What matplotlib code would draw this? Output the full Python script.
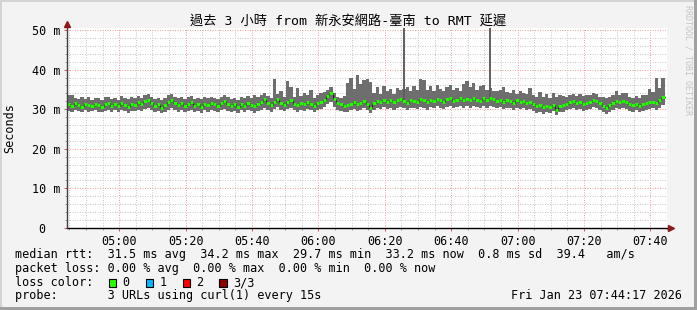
import numpy as np
import matplotlib
matplotlib.use("Agg")
import matplotlib.pyplot as plt
from matplotlib.patches import Rectangle

# one value per minute, starting 04:44:17 (ms)
median = [
    31.2, 30.8, 31.5, 31.0, 30.6, 31.4, 31.1, 30.7, 31.3, 31.0,
    30.5, 31.2, 31.6, 30.9, 31.3, 30.8, 31.5, 31.1, 30.6, 31.4,
    31.0, 31.7, 31.3, 32.0, 32.4, 31.5, 30.8, 31.2, 30.4, 31.0,
    31.8, 32.4, 31.6, 31.0, 31.5, 30.9, 31.3, 31.7, 30.8, 31.2,
    30.6, 31.4, 31.0, 31.6, 31.2, 30.8, 31.5, 32.0, 31.3, 30.9,
    31.2, 30.6, 31.4, 30.9, 31.5, 31.1, 30.7, 31.3, 31.8, 32.5,
    31.6, 31.0, 31.8, 32.6, 31.5, 31.1, 31.9, 32.3, 31.4, 31.0,
    31.6, 31.2, 31.8, 31.3, 30.9, 31.5, 31.9, 32.4, 33.3, 34.2,
    32.5, 31.6, 31.2, 30.8, 31.0, 31.4, 31.8, 31.2, 31.6, 32.0,
    31.4, 30.4, 31.6, 32.1, 31.8, 32.4, 31.9, 32.3, 31.7, 32.2,
    32.6, 32.0, 31.5, 32.3, 32.1, 31.8, 32.5, 32.2, 31.7, 32.4,
    32.0, 32.6, 32.2, 31.9, 32.5, 32.8, 32.1, 32.4, 32.7, 32.3,
    32.6, 32.2, 32.9, 32.4, 32.0, 32.7, 32.3, 32.8, 32.5, 32.1,
    32.4, 31.9, 32.3, 32.0, 31.6, 32.2, 31.8, 32.1, 31.5, 31.8,
    31.2, 30.7, 31.0, 30.5, 30.9, 30.6, 31.1, 29.9, 30.8, 31.0,
    31.4, 31.8, 32.0, 31.5, 31.9, 31.2, 31.6, 31.9, 32.4, 32.1,
    31.5, 30.9, 30.2, 31.0, 31.6, 32.0, 31.8, 32.1, 31.7, 31.3,
    31.0, 31.4, 30.8, 31.2, 31.5, 31.7, 31.9, 31.6, 32.2, 33.2,
]
upper = [
    33.7, 33.6, 32.8, 32.5, 33.1, 32.6, 33.0, 32.4, 32.9, 32.7,
    32.3, 33.2, 33.0, 32.6, 32.9, 32.4, 33.3, 32.8, 32.5, 33.1,
    32.7, 33.4, 32.9, 33.6, 33.9, 33.1, 32.6, 32.9, 32.4, 32.8,
    33.5, 33.8, 33.2, 32.7, 33.1, 32.6, 33.0, 33.4, 32.5, 32.9,
    32.6, 33.1, 32.7, 33.2, 32.9, 32.5, 33.2, 33.7, 33.0, 32.6,
    32.9, 32.4, 33.1, 32.7, 33.3, 32.9, 33.5, 33.2, 33.6, 34.0,
    33.4, 32.9, 37.5, 33.8, 34.5, 33.0, 37.2, 35.6, 33.2, 35.4,
    33.4, 34.2, 33.5, 34.8, 32.9, 33.6, 34.0, 34.3, 34.9, 35.5,
    34.0, 33.2, 32.9, 33.4, 36.6, 37.8, 35.2, 38.7, 36.3, 37.4,
    37.5, 36.8, 34.2, 35.6, 33.8, 35.9, 34.5, 35.2, 33.9, 35.4,
    34.8, 35.1, 35.5, 34.6, 35.8, 34.9, 37.5, 37.3, 34.8, 35.9,
    34.6, 36.1, 35.2, 34.7, 35.6, 36.0, 34.9, 35.3, 34.5, 36.3,
    37.0, 35.6, 36.5, 34.8, 35.9, 36.2, 34.9, 35.4, 34.6, 34.5,
    34.9, 35.7, 34.4, 34.1, 34.8, 33.9, 34.5, 34.2, 33.8, 35.4,
    33.6, 33.2, 34.3, 33.0, 33.8, 32.9, 34.0, 33.1, 33.5, 33.4,
    33.2, 33.6, 33.8, 33.4, 33.9, 33.3, 33.5, 33.7, 34.0, 33.8,
    33.2, 33.0, 32.8, 33.1, 33.5, 34.5, 33.7, 34.2, 34.2, 33.1,
    32.9, 33.4, 32.8, 33.5, 33.6, 35.0, 34.3, 37.9, 35.4, 38.0,
]
lower = [
    29.5, 29.3, 29.8, 29.6, 29.2, 29.7, 29.4, 29.5, 29.8, 29.3,
    29.4, 29.6, 29.9, 29.3, 29.7, 29.2, 29.8, 29.5, 29.1, 29.6,
    29.5, 29.8, 29.6, 30.1, 30.3, 29.7, 29.2, 29.5, 29.0, 29.4,
    29.9, 30.2, 29.8, 29.4, 29.7, 29.3, 29.6, 29.9, 29.2, 29.5,
    29.1, 29.7, 29.4, 29.8, 29.6, 29.3, 29.7, 30.1, 29.6, 29.2,
    29.6, 29.0, 29.7, 29.3, 29.8, 29.5, 29.1, 29.6, 29.9, 30.4,
    29.9, 29.4, 30.0, 30.5, 29.8, 29.5, 30.1, 30.4, 29.7, 29.4,
    29.9, 29.6, 30.1, 29.7, 29.3, 29.8, 30.1, 30.5, 31.2, 31.8,
    30.6, 29.9, 29.5, 29.2, 29.4, 29.7, 30.0, 29.6, 29.9, 30.2,
    29.8, 29.0, 29.9, 30.3, 30.0, 30.5, 30.1, 30.4, 29.9, 30.3,
    30.6, 30.2, 29.8, 30.4, 30.2, 30.0, 30.6, 30.3, 29.9, 30.5,
    30.2, 30.7, 30.4, 30.1, 30.6, 30.8, 30.3, 30.5, 30.8, 30.4,
    30.7, 30.4, 30.9, 30.5, 30.2, 30.8, 30.4, 30.9, 30.6, 30.3,
    30.5, 30.1, 30.4, 30.2, 29.8, 30.3, 30.0, 30.2, 29.7, 30.0,
    29.5, 29.1, 29.4, 28.9, 29.3, 29.0, 29.5, 28.6, 29.2, 29.4,
    29.7, 30.0, 30.2, 29.8, 30.1, 29.5, 29.9, 30.1, 30.5, 30.3,
    29.8, 29.3, 28.9, 29.4, 29.9, 30.2, 30.0, 30.3, 30.0, 29.6,
    29.4, 29.7, 29.2, 29.6, 29.8, 30.0, 30.2, 29.9, 30.4, 31.0,
]
# two single-sample outliers (minutes after start, ms) - beyond top of graph
spike_minutes = [101.5, 127.5]
spike_values = [60.0, 60.0]

time_labels = ["05:00", "05:20", "05:40", "06:00", "06:20", "06:40", "07:00", "07:20", "07:40"]
first_tick = 15 + 43 / 60.0   # 05:00:00 minus 04:44:17, in minutes
y_labels = ["0  ", "10 m", "20 m", "30 m", "40 m", "50 m"]

title = "過去 3 小時 from 新永安網路-臺南 to RMT 延遲"
legend_lines = [
    "median rtt:  31.5 ms avg  34.2 ms max  29.7 ms min  33.2 ms now  0.8 ms sd  39.4   am/s",
    "packet loss: 0.00 % avg  0.00 % max  0.00 % min  0.00 % now",
    "loss color:",
    "probe:       3 URLs using curl(1) every 15s",
]
loss_names = ["0", "1", "2", "3/3"]
loss_colors = ["#26ff00", "#00b8ff", "#ff0000", "#8b0000"]
stamp = "Fri Jan 23 07:44:17 2026"

W, H = 697, 310
mono = ["DejaVu Sans Mono", "Noto Sans CJK TC"]
plt.rcParams["font.family"] = mono
FS = 8.5


def fx(px):
    return px / W


def fy(py):
    return 1 - py / H


fig = plt.figure(figsize=(W / 100, H / 100), dpi=100, facecolor="#f3f3f3")

# 3d frame like rrdtool
fig.add_artist(Rectangle((0, fy(2)), 1, 2 / H, transform=fig.transFigure, color="#d4d4d4", lw=0))
fig.add_artist(Rectangle((0, 0), 2 / W, 1, transform=fig.transFigure, color="#d4d4d4", lw=0))
fig.add_artist(Rectangle((fx(694), 0), 3 / W, 1, transform=fig.transFigure, color="#a0a0a0", lw=0))
fig.add_artist(Rectangle((0, 0), 1, 3 / H, transform=fig.transFigure, color="#a0a0a0", lw=0))

ax = fig.add_axes([fx(67), fy(228), 600 / W, 200 / H])
ax.set_facecolor("white")

x = np.arange(len(median) + 1)
m = np.array(median)
up = np.append(upper, upper[-1])
lo = np.append(lower, lower[-1])

smoke = "#6e6e6e"
ax.fill_between(x, lo, up, step="post", color=smoke, lw=0, zorder=2)
spike_base = [median[int(t)] for t in spike_minutes]
ax.vlines(spike_minutes, spike_base, spike_values, colors="#5e5e5e", lw=1.4, zorder=2)
ax.step(x, np.append(m, m[-1]), where="post", color="#1e1e1e", lw=0.8, zorder=3)
ax.hlines(m, x[:-1], x[1:], colors=loss_colors[0], lw=2.0, zorder=4)

ax.set_xlim(0, 180)
ax.set_ylim(0, 50.5)

ax.set_xticks(first_tick + 20 * np.arange(len(time_labels)))
ax.set_xticklabels(time_labels)
ax.set_xticks(first_tick - 15 + 5 * np.arange(37), minor=True)
ax.set_yticks(np.arange(0, 51, 10))
ax.set_yticklabels(y_labels)
ax.set_yticks(np.arange(0, 51, 2), minor=True)

ax.set_axisbelow(True)
ax.grid(which="major", color="#f0a0a0", ls=(0, (1, 1.5)), lw=0.72)
ax.grid(which="minor", color="#c8c8c8", ls=(0, (1, 1.5)), lw=0.72)
ax.tick_params(which="major", length=2.2, width=0.72, color="#d06060", labelsize=FS, pad=2.6)
ax.tick_params(which="minor", length=1.4, width=0.72, color="#a0a0a0")
for s in ax.spines.values():
    s.set_visible(False)

# axes with arrows
ax.plot([0, 1.007], [0, 0], transform=ax.transAxes, color="black", lw=1, clip_on=False, zorder=5)
ax.plot([0, 0], [0, 1.02], transform=ax.transAxes, color="#404040", lw=1, clip_on=False, zorder=5)
ax.plot(1.007, 0, marker=">", ms=4, color="#8b1a1a", transform=ax.transAxes, clip_on=False, zorder=6)
ax.plot(0, 1.02, marker="^", ms=4, color="#8b1a1a", transform=ax.transAxes, clip_on=False, zorder=6)

fig.text(0.5, fy(26), title, ha="center", va="baseline", fontsize=9.5)
fig.text(fx(10), fy(128), "Seconds", rotation=90, ha="center", va="center", fontsize=FS)
fig.text(fx(688), fy(60), "RRDTOOL / TOBI OETIKER", rotation=270, ha="center", va="center",
         fontsize=6, color="#c4c4c4")

rows = [258.3, 271.7, 286.0, 299.3]
for line, row in zip(legend_lines, rows):
    fig.text(fx(15), fy(row), line, ha="left", va="baseline", fontsize=FS)

box_x = [108.7, 145.7, 182.7, 219.3]
for name, col, bx in zip(loss_names, loss_colors, box_x):
    fig.add_artist(Rectangle((fx(bx), fy(286.5)), 7.5 / W, 8 / H, transform=fig.transFigure,
                             facecolor=col, edgecolor="black", lw=0.8))
    fig.text(fx(bx + 13.5), fy(286.0), name, ha="left", va="baseline", fontsize=FS)

fig.text(fx(682), fy(299.3), stamp, ha="right", va="baseline", fontsize=FS)

fig.savefig("out.png", dpi=100, facecolor=fig.get_facecolor())
